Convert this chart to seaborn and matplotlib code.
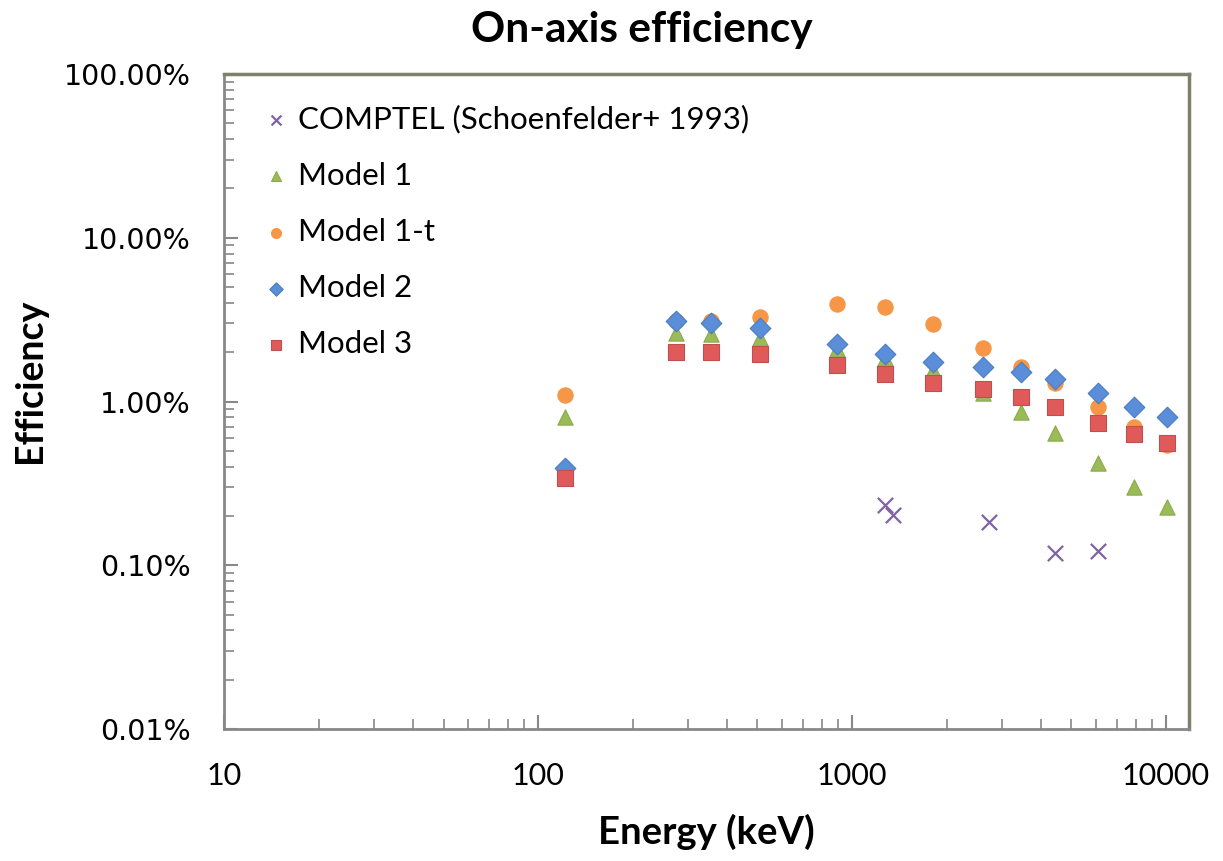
import numpy as np
import pandas as pd
import matplotlib
matplotlib.use("Agg")
import matplotlib.pyplot as plt
import seaborn as sns
from matplotlib.ticker import FixedLocator, FuncFormatter, LogLocator, NullFormatter

# energies (keV) and on-axis efficiency (%)
energy = [122, 276, 356, 511, 898, 1275, 1809, 2614, 3450, 4430, 6060, 7900, 10100]
model1 = [0.80, 2.63, 2.60, 2.46, 2.10, 1.85, 1.55, 1.12, 0.86, 0.64, 0.42, 0.30, 0.226]
model1t = [1.09, 3.12, 3.12, 3.30, 3.96, 3.79, 2.99, 2.13, 1.63, 1.29, 0.92, 0.70, 0.54]
model2 = [0.39, 3.12, 3.03, 2.83, 2.26, 1.96, 1.75, 1.63, 1.52, 1.38, 1.13, 0.93, 0.80]
model3 = [0.339, 2.02, 2.02, 1.96, 1.68, 1.48, 1.29, 1.20, 1.06, 0.93, 0.74, 0.63, 0.56]

comptel_energy = [1275, 1352, 2730, 4430, 6060]
comptel_eff = [0.235, 0.202, 0.185, 0.118, 0.123]

sns.set_style("white")
plt.rcParams["font.family"] = ["Lato", "DejaVu Sans"]
plt.rcParams["text.color"] = "black"
plt.rcParams["xtick.labelcolor"] = "black"
plt.rcParams["ytick.labelcolor"] = "black"

fig = plt.figure(figsize=(12.23, 8.61), dpi=100)
ax = fig.add_axes([0.1832, 0.1533, 0.9722 - 0.1832, 0.914 - 0.1533])

series = [
    ("COMPTEL (Schoenfelder+ 1993)", comptel_energy, comptel_eff, "x", "#8064a2", 11),
    ("Model 1", energy, model1, "^", "#9bbb59", 11),
    ("Model 1-t", energy, model1t, "o", "#f79646", 11),
    ("Model 2", energy, model2, "D", "#5a8ed8", 10.5),
    ("Model 3", energy, model3, "s", "#e05a5a", 11),
]

for name, xs, ys, mk, col, ms in series:
    df = pd.DataFrame({"energy": xs, "eff": ys})
    if mk == "x":
        sns.scatterplot(data=df, x="energy", y="eff", marker=mk, color=col,
                        s=ms ** 2, linewidth=1.6, label=name, ax=ax, zorder=3)
    else:
        edge = {"^": "#8aab4a", "o": "#f79646", "D": "#4a7cc0", "s": "#c0504d"}[mk]
        sns.scatterplot(data=df, x="energy", y="eff", marker=mk, color=col,
                        s=ms ** 2, edgecolor=edge, linewidth=0.8, label=name,
                        ax=ax, zorder=3)

ax.set_xscale("log")
ax.set_yscale("log")
ax.set_xlim(10, 11840)
ax.set_ylim(0.01, 100)

ax.xaxis.set_major_locator(FixedLocator([10, 100, 1000, 10000]))
ax.xaxis.set_major_formatter(FuncFormatter(lambda v, p: f"{v:.0f}"))
ax.xaxis.set_minor_locator(LogLocator(base=10, subs=np.arange(2, 10)))
ax.xaxis.set_minor_formatter(NullFormatter())
ax.yaxis.set_major_locator(FixedLocator([0.01, 0.1, 1, 10, 100]))
ax.yaxis.set_major_formatter(FuncFormatter(lambda v, p: f"{v:.2f}%"))
ax.yaxis.set_minor_locator(LogLocator(base=10, subs=np.arange(2, 10)))
ax.yaxis.set_minor_formatter(NullFormatter())

ax.tick_params(axis="both", which="both", bottom=True, left=True,
               top=False, right=False)
ax.tick_params(axis="both", which="major", direction="in", length=10,
               width=1.5, color="#888888", pad=24, labelcolor="black")
ax.tick_params(axis="both", which="minor", direction="in", length=7,
               width=1.2, color="#888888")
ax.tick_params(axis="x", labelsize=22)
for lab in ax.get_xticklabels():
    lab.set_fontfamily("Lato")
ax.tick_params(axis="y", labelsize=20.5)
for lab in ax.get_yticklabels():
    lab.set_fontfamily("DejaVu Sans")

for side in ["left", "bottom"]:
    ax.spines[side].set_color("#888888")
    ax.spines[side].set_linewidth(2)
for side in ["top", "right"]:
    ax.spines[side].set_color("#7f7f6c")
    ax.spines[side].set_linewidth(2.5)

ax.set_xlabel("")
ax.set_ylabel("")
fig.text(706 / 1223, 1 - 832 / 861, "Energy (keV)", ha="center", va="center",
         fontsize=27.5, fontweight="bold", color="black")
fig.text(30 / 1223, 1 - 381 / 861, "Efficiency", ha="center", va="center",
         rotation=90, fontsize=27, fontweight="bold", color="black")
fig.text(642 / 1223, 1 - 30 / 861, "On-axis efficiency", ha="center",
         va="center", fontsize=30.5, fontweight="bold", color="black")

leg = ax.legend(loc="upper left", bbox_to_anchor=(0.0086, 0.996), frameon=False,
                fontsize=22.5, markerscale=0.65, handletextpad=0.2,
                labelspacing=0.9, handlelength=1.0)
for t in leg.get_texts():
    t.set_color("black")

fig.savefig("out.png", dpi=100)
